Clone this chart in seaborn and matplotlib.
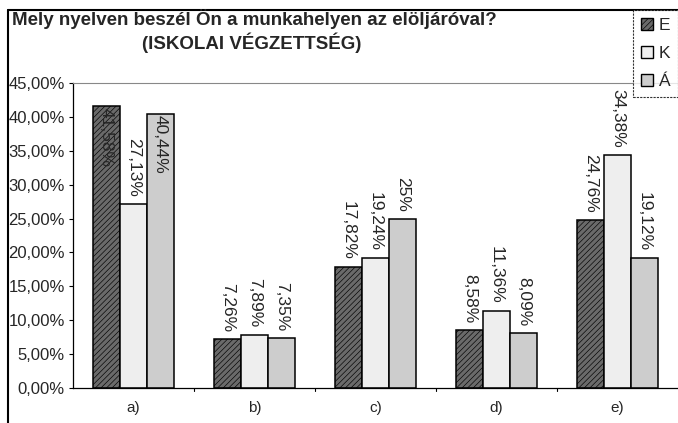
import numpy as np
import pandas as pd
import matplotlib
matplotlib.use("Agg")
import matplotlib.pyplot as plt
import seaborn as sns
from matplotlib.lines import Line2D
from matplotlib.patches import Patch

categories = ["a)", "b)", "c)", "d)", "e)"]
series = ["E", "K", "Á"]
vals_E = [41.58, 7.26, 17.82, 8.58, 24.76]
vals_K = [27.13, 7.89, 19.24, 11.36, 34.38]
vals_A = [40.44, 7.35, 25.00, 8.09, 19.12]
labels_E = ["41,58%", "7,26%", "17,82%", "8,58%", "24,76%"]
labels_K = ["27,13%", "7,89%", "19,24%", "11,36%", "34,38%"]
labels_A = ["40,44%", "7,35%", "25%", "8,09%", "19,12%"]
yticks = [0, 5, 10, 15, 20, 25, 30, 35, 40, 45]
ytick_labels = ["0,00%", "5,00%", "10,00%", "15,00%", "20,00%", "25,00%",
                "30,00%", "35,00%", "40,00%", "45,00%"]
title1 = "Mely nyelven beszél Ön a munkahelyen az elöljáróval?"
title2 = "(ISKOLAI VÉGZETTSÉG)"

sns.set_theme(style="white")
plt.rcParams['font.family'] = ['Liberation Sans', 'DejaVu Sans']
plt.rcParams['hatch.linewidth'] = 0.45

df = pd.DataFrame({
    "cat": categories * 3,
    "series": ["E"] * 5 + ["K"] * 5 + ["Á"] * 5,
    "val": vals_E + vals_K + vals_A,
    "lab": labels_E + labels_K + labels_A,
})

colors = {"E": "#6a6a6a", "K": "#eeeeee", "Á": "#cdcdcd"}
hatches = {"E": "//////", "K": "", "Á": ""}

fig = plt.figure(figsize=(6.78, 4.23), dpi=100)
ax = fig.add_axes([73 / 678, 35 / 423, 605 / 678, 305 / 423])

sns.barplot(data=df, x="cat", y="val", hue="series", hue_order=series,
            order=categories, palette=colors, width=0.67, gap=0,
            edgecolor="black", linewidth=1.1, legend=False, ax=ax)

for cont, s in zip(ax.containers, series):
    sub = df[df.series == s]
    for bar, v, lab in zip(cont, sub.val, sub.lab):
        if hatches[s]:
            bar.set_hatch(hatches[s])
            bar.set_edgecolor("black")
        x = bar.get_x() + bar.get_width() / 2
        h = bar.get_height()
        if h > 38:
            ax.annotate(lab, (x, h), xytext=(0, -1), textcoords="offset points",
                        rotation=270, ha="center", va="top", fontsize=12.5)
        else:
            ax.annotate(lab, (x, h), xytext=(0, 5), textcoords="offset points",
                        rotation=270, ha="center", va="bottom", fontsize=12.5)

ax.set_ylim(0, 45)
ax.set_xlim(-0.5, 4.5)
ax.set_yticks(yticks)
ax.set_yticklabels(ytick_labels, fontsize=12)
ax.set_xticks(range(len(categories)))
ax.set_xticklabels(categories, fontsize=11)
ax.set_xlabel("")
ax.set_ylabel("")
ax.tick_params(axis="y", length=3, width=0.8, color="black", pad=3, left=True)
ax.tick_params(axis="x", length=0, pad=9)
for t in [0.5, 1.5, 2.5, 3.5]:
    ax.plot([t, t], [0, -0.5], color="black", lw=0.8, clip_on=False)

ax.spines["left"].set_color("black")
ax.spines["left"].set_linewidth(0.9)
ax.spines["bottom"].set_color("black")
ax.spines["bottom"].set_linewidth(0.9)
ax.spines["top"].set_color("#888888")
ax.spines["top"].set_linestyle((0, (1, 1)))
ax.spines["top"].set_linewidth(0.8)
ax.spines["right"].set_visible(False)

fig.text(12 / 678, 1 - 19 / 423, title1, fontsize=13.5, fontweight="bold",
         ha="left", va="center")
fig.text(252 / 678, 1 - 43 / 423, title2, fontsize=13.5, fontweight="bold",
         ha="center", va="center")

fig.add_artist(Line2D([8 / 678, 8 / 678], [0, 1 - 10 / 423], color="black", lw=1.5,
                      transform=fig.transFigure))
fig.add_artist(Line2D([8 / 678, 1], [1 - 10 / 423, 1 - 10 / 423], color="black", lw=1.5,
                      transform=fig.transFigure))

handles = [Patch(facecolor=colors[s], edgecolor="black", hatch=hatches[s] or None, label=s)
           for s in series]
leg = fig.legend(handles=handles, loc="upper right", bbox_to_anchor=(1.0, 1 - 10 / 423),
                 frameon=True, fancybox=False, edgecolor="black", fontsize=12.5,
                 handlelength=0.7, handleheight=0.7, handletextpad=0.3,
                 labelspacing=0.75, borderpad=0.45, borderaxespad=0)
leg.get_frame().set_linewidth(0.8)
leg.get_frame().set_linestyle((0, (2, 1)))

fig.savefig("out.png", dpi=100)
